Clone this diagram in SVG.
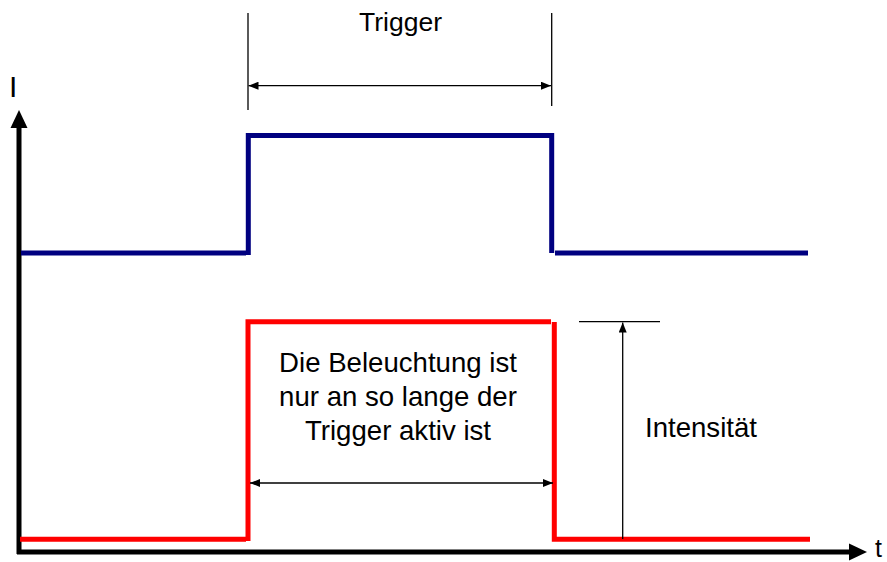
<svg xmlns="http://www.w3.org/2000/svg" width="887" height="562" viewBox="0 0 887 562">
<style>
text{font-family:"Liberation Sans",Arial,sans-serif;fill:#000}
.axis{stroke:#000;stroke-width:5;fill:none}
.dim{stroke:#000;stroke-width:1.3;fill:none}
.sig{fill:none;stroke-width:5;stroke-linejoin:miter}
</style>
<defs>
<marker id="ah" viewBox="0 0 10 8" refX="10" refY="4" markerWidth="10" markerHeight="8" markerUnits="userSpaceOnUse" orient="auto-start-reverse">
<path d="M0,0 L10,4 L0,8 Z" fill="#000"/>
</marker>
</defs>
<rect width="887" height="562" fill="#fff"/>
<g id="axes">
<line class="axis" x1="19" y1="554" x2="19" y2="126"/>
<polygon points="19,110 10.5,128 27.5,128" fill="#000"/>
<line class="axis" x1="17" y1="552" x2="850" y2="552"/>
<polygon points="867,552 849,543.5 849,560.5" fill="#000"/>
<text x="9" y="97" font-size="30">I</text>
<text x="875" y="557" font-size="25">t</text>
</g>
<g id="trigger-signal">
<path class="sig" stroke="#000080" d="M21,253 H246 M248.3,255 V135.5 H551.7 V253 M555,253 H808"/>
</g>
<g id="light-signal">
<path class="sig" stroke="#ff0000" d="M20,539.3 H246 M248,541 V321.7 H551 M554.3,322 V539.3 H810"/>
</g>
<g id="connectors">
<line class="dim" x1="248" y1="13" x2="248" y2="110"/>
<line class="dim" x1="551.7" y1="13" x2="551.7" y2="106"/>
<line class="dim" x1="248.5" y1="85.7" x2="551" y2="85.7" marker-start="url(#ah)" marker-end="url(#ah)"/>
<line class="dim" x1="250" y1="483" x2="553" y2="483" marker-start="url(#ah)" marker-end="url(#ah)"/>
<line class="dim" stroke="#404040" x1="579" y1="321.7" x2="660" y2="321.7"/>
<line class="dim" stroke="#404040" x1="622.7" y1="539" x2="622.7" y2="322.5" marker-end="url(#ah)"/>
</g>
<g id="labels">
<text x="400.5" y="31" font-size="26.5" text-anchor="middle">Trigger</text>
<text x="398" y="371.7" font-size="27.6" text-anchor="middle">Die Beleuchtung ist</text>
<text x="398" y="405.5" font-size="27.6" text-anchor="middle">nur an so lange der</text>
<text x="398" y="439.5" font-size="27.6" text-anchor="middle">Trigger aktiv ist</text>
<text x="645" y="437" font-size="27.6">Intensität</text>
</g>
</svg>
